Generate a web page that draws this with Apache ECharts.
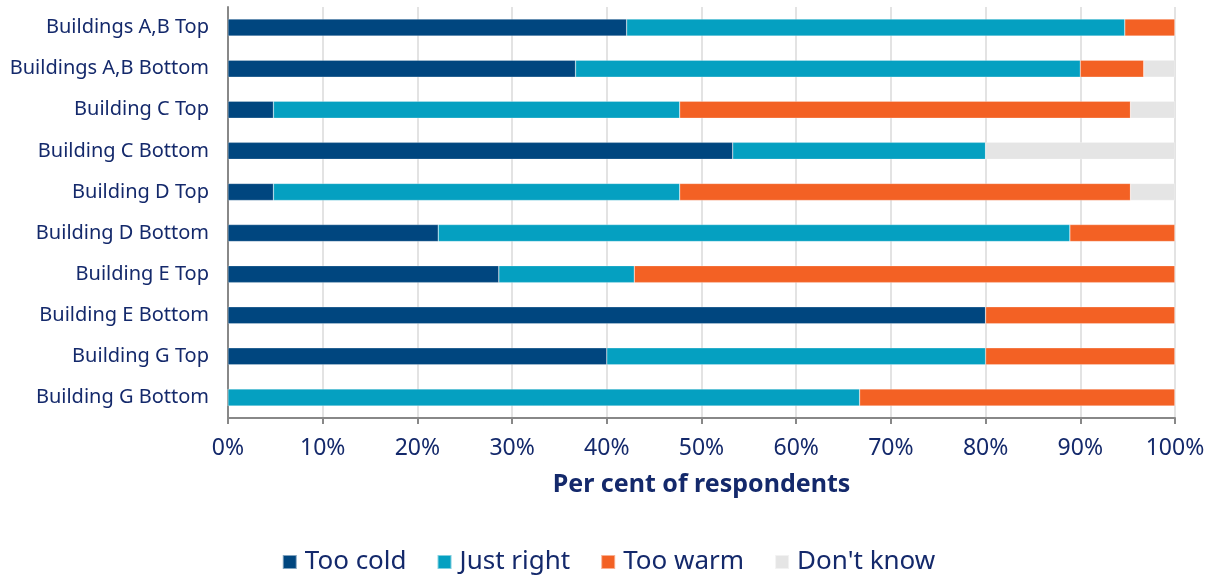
<!DOCTYPE html>
<html><head><meta charset="utf-8">
<script src="https://cdn.jsdelivr.net/npm/echarts@6/dist/echarts.min.js"></script>
<style>html,body{margin:0;padding:0;background:#fff}#c{width:1217px;height:576px}</style>
</head><body><div id="c"></div>
<script>
var categories = ["Buildings A,B Top","Buildings A,B Bottom","Building C Top","Building C Bottom","Building D Top","Building D Bottom","Building E Top","Building E Bottom","Building G Top","Building G Bottom"];
var tooCold   = [42.1, 36.7, 4.8, 53.3, 4.8, 22.2, 28.6, 80.0, 40.0, 0];
var justRight = [52.6, 53.3, 42.9, 26.7, 42.9, 66.7, 14.3, 0, 40.0, 66.7];
var tooWarm   = [5.3, 6.7, 47.6, 0, 47.6, 11.1, 57.1, 20.0, 20.0, 33.3];
var dontKnow  = [0, 3.3, 4.7, 20.0, 4.7, 0, 0, 0, 0, 0];
var seriesNames = ["Too cold","Just right","Too warm","Don't know"];
var colors = ["#00467f","#05a0c1","#f36124","#e5e5e5"];
var txt = "#14296b";
var font = "Noto Sans";
var data = [tooCold, justRight, tooWarm, dontKnow];
var chart = echarts.init(document.getElementById('c'));
chart.setOption({
  animation:false,
  textStyle:{fontFamily:font},
  grid:{left:228,right:42,top:7,bottom:158},
  legend:{bottom:-4,left:'center',itemWidth:14,itemHeight:14,itemGap:30,icon:'rect',
    textStyle:{fontSize:26,color:txt,fontFamily:font,padding:[0,0,0,3]},data:seriesNames},
  xAxis:{type:'value',min:0,max:100,interval:10,
    name:'Per cent of respondents',nameLocation:'middle',nameGap:54,
    nameTextStyle:{fontSize:25,color:txt,fontWeight:'bold',fontFamily:font},
    axisLine:{show:true,lineStyle:{color:'#888',width:2}},
    axisTick:{show:true,length:6,lineStyle:{color:'#888',width:2}},
    axisLabel:{formatter:'{value}%',fontSize:23,color:txt,margin:19,fontFamily:font},
    splitLine:{show:true,lineStyle:{color:'#e3e3e3',width:2}}},
  yAxis:{type:'category',data:categories,inverse:true,
    axisLine:{show:true,lineStyle:{color:'#888',width:2}},
    axisTick:{show:false},
    axisLabel:{fontSize:20,color:txt,margin:19,fontFamily:font}},
  series:data.map(function(d,i){return {name:seriesNames[i],type:'bar',stack:'t',data:d,barWidth:17,
    itemStyle:{color:colors[i],borderColor:'rgba(255,255,255,0.5)',borderWidth:0.5}};})
});
</script></body></html>
